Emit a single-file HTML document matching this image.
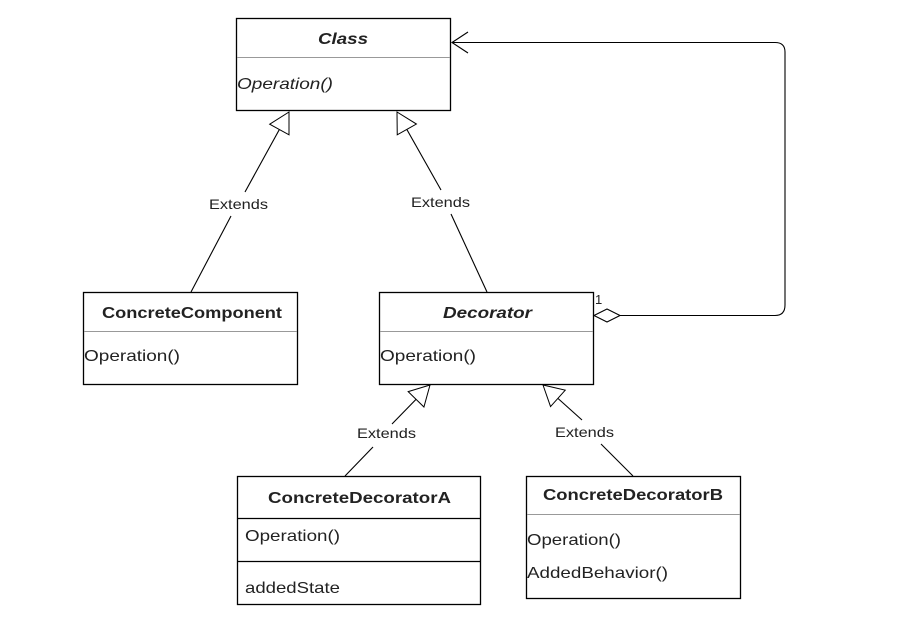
<!DOCTYPE html>
<html><head><meta charset="utf-8"><style>
html,body{margin:0;padding:0;background:#fff;}
svg{display:block;font-family:"Liberation Sans",sans-serif;}
</style></head><body>
<svg width="905" height="632" viewBox="0 0 905 632" xmlns="http://www.w3.org/2000/svg">
<defs>
<marker id="tri" markerUnits="userSpaceOnUse" markerWidth="24" markerHeight="26" refX="21" refY="12" orient="auto">
<path d="M1,1 L21,12 L1,23 Z" fill="#fff" stroke="#000" stroke-width="1"/>
</marker>
</defs>
<g fill="#fff" stroke="#000" stroke-width="1.3">
<rect x="236.5" y="18.5" width="214" height="92"/>
<rect x="83.5" y="292.5" width="214" height="92"/>
<rect x="379.5" y="292.5" width="214" height="92"/>
<rect x="237.5" y="476.5" width="243" height="128"/>
<rect x="526.5" y="476.5" width="214" height="122"/>
</g>
<g stroke="#999" stroke-width="1">
<line x1="237" y1="57.5" x2="450" y2="57.5"/>
<line x1="84" y1="331.5" x2="297" y2="331.5"/>
<line x1="380" y1="331.5" x2="593" y2="331.5"/>
<line x1="527" y1="514.5" x2="740" y2="514.5"/>
</g>
<g stroke="#000" stroke-width="1.3">
<line x1="238" y1="518.5" x2="480" y2="518.5"/>
<line x1="238" y1="561.5" x2="480" y2="561.5"/>
</g>
<g stroke="#000" stroke-width="1.1" fill="none">
<line x1="191" y1="292" x2="231" y2="216" />
<line x1="245" y1="192" x2="289" y2="112" marker-end="url(#tri)"/>
<line x1="487" y1="292" x2="451" y2="214"/>
<line x1="441" y1="190" x2="397" y2="112" marker-end="url(#tri)"/>
<line x1="345" y1="476" x2="373" y2="447"/>
<line x1="392" y1="424" x2="430" y2="385" marker-end="url(#tri)"/>
<line x1="633" y1="476" x2="601" y2="444"/>
<line x1="582" y1="420" x2="543" y2="385" marker-end="url(#tri)"/>
<path d="M620,315.5 L775,315.5 Q785,315.5 785,305 L785,52 Q785,42.5 775,42.5 L452,42.5"/>
<path d="M468,32 L452,42.5 L468,53"/>
<path d="M594,315.5 L607,309 L620,315.5 L607,322 Z" fill="#fff"/>
</g>
<g font-size="16" fill="#222" lengthAdjust="spacingAndGlyphs">
<text x="318" y="44" font-weight="bold" font-style="italic" textLength="50" lengthAdjust="spacingAndGlyphs">Class</text>
<text x="237" y="89" font-style="italic" textLength="96" lengthAdjust="spacingAndGlyphs">Operation()</text>
<text x="102" y="318" font-weight="bold" textLength="180" lengthAdjust="spacingAndGlyphs">ConcreteComponent</text>
<text x="84" y="361" textLength="96" lengthAdjust="spacingAndGlyphs">Operation()</text>
<text x="443" y="318" font-weight="bold" font-style="italic" textLength="89" lengthAdjust="spacingAndGlyphs">Decorator</text>
<text x="380" y="361" textLength="96" lengthAdjust="spacingAndGlyphs">Operation()</text>
<text x="268" y="503" font-weight="bold" textLength="183" lengthAdjust="spacingAndGlyphs">ConcreteDecoratorA</text>
<text x="245" y="541" textLength="95" lengthAdjust="spacingAndGlyphs">Operation()</text>
<text x="245" y="593" textLength="95" lengthAdjust="spacingAndGlyphs">addedState</text>
<text x="543" y="500" font-weight="bold" textLength="180" lengthAdjust="spacingAndGlyphs">ConcreteDecoratorB</text>
<text x="527" y="545" textLength="94" lengthAdjust="spacingAndGlyphs">Operation()</text>
<text x="527" y="578" textLength="141" lengthAdjust="spacingAndGlyphs">AddedBehavior()</text>
</g>
<g font-size="14" fill="#222">
<text x="209" y="209" textLength="59" lengthAdjust="spacingAndGlyphs">Extends</text>
<text x="411" y="207" textLength="59" lengthAdjust="spacingAndGlyphs">Extends</text>
<text x="357" y="438" textLength="59" lengthAdjust="spacingAndGlyphs">Extends</text>
<text x="555" y="437" textLength="59" lengthAdjust="spacingAndGlyphs">Extends</text>
<text x="595" y="304" font-size="13">1</text>
</g>
</svg>
</body></html>
